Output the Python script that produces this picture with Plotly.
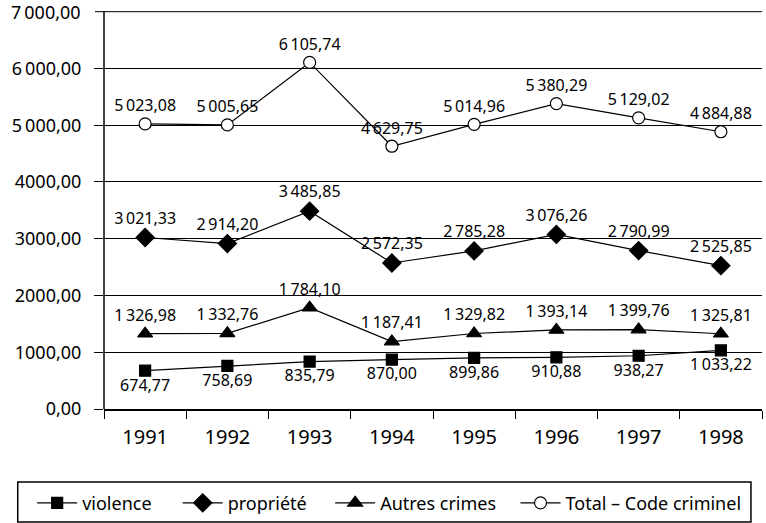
import plotly.graph_objects as go

years = ["1991", "1992", "1993", "1994", "1995", "1996", "1997", "1998"]
violence = [674.77, 758.69, 835.79, 870.00, 899.86, 910.88, 938.27, 1033.22]
propriete = [3021.33, 2914.20, 3485.85, 2572.35, 2785.28, 3076.26, 2790.99, 2525.85]
autres = [1326.98, 1332.76, 1784.10, 1187.41, 1329.82, 1393.14, 1399.76, 1325.81]
total = [5023.08, 5005.65, 6105.74, 4629.75, 5014.96, 5380.29, 5129.02, 4884.88]

y_tickvals = [0, 1000, 2000, 3000, 4000, 5000, 6000, 7000]
y_ticktext = ["0,00", "1000,00", "2000,00", "3000,00", "4000,00", "5\u2009000,00", "6\u2009000,00", "7\u2009000,00"]


def fmt(v):
    s = f"{v:,.2f}"
    s = s.replace(",", "\u2009").replace(".", ",")
    return s


FONT = "Noto Sans"
series = [
    ("violence", violence, "square", "black", "bottom center", 11, "legend", 0.042),
    ("propriété", propriete, "diamond", "black", "top center", 14, "legend2", 0.232),
    ("Autres crimes", autres, "triangle-up", "black", "top center", 13, "legend3", 0.431),
    ("Total \u2013 Code criminel", total, "circle", "white", "top center", 12, "legend4", 0.673),
]

fig = go.Figure()
for name, vals, sym, fill, pos, msize, leg, lx in series:
    fig.add_trace(go.Scatter(
        x=years, y=vals, name=name, mode="lines+markers+text",
        text=[fmt(v) for v in vals], textposition=pos,
        textfont=dict(family=FONT, size=16, color="black"),
        line=dict(color="black", width=1.2),
        marker=dict(symbol=sym, size=msize, color=fill,
                    line=dict(color="black", width=1.2)),
        cliponaxis=False, legend=leg,
    ))

leg_common = dict(orientation="h", xref="container", yref="container",
                  y=0.038, yanchor="middle", xanchor="left",
                  bgcolor="rgba(0,0,0,0)", borderwidth=0,
                  font=dict(family=FONT, size=18, color="black"), itemwidth=40)
legends = {}
for name, vals, sym, fill, pos, msize, leg, lx in series:
    legends[leg] = dict(leg_common, x=lx)

top_val = y_tickvals[-1]
top_txt = y_ticktext[-1]

fig.update_layout(
    width=766, height=523,
    margin=dict(l=104, r=4, t=6, b=114, autoexpand=False),
    paper_bgcolor="white", plot_bgcolor="white",
    font=dict(family=FONT, color="black"),
    showlegend=True,
    **legends,
    xaxis=dict(showgrid=False, showline=True, linecolor="black", linewidth=1.5,
               ticks="outside", tickson="boundaries", ticklen=8, tickcolor="black",
               tickfont=dict(family=FONT, size=20), range=[-0.5, 7.5],
               ticklabelstandoff=9, automargin=False),
    yaxis=dict(range=[0, 7100], tickvals=y_tickvals[:-1],
               ticktext=[t + "\u2002" for t in y_ticktext[:-1]],
               showgrid=True, gridcolor="black", gridwidth=1,
               showline=False,
               ticks="outside", ticklen=9, tickcolor="black",
               tickfont=dict(family=FONT, size=18), zeroline=False,
               automargin=False),
)
# vertical axis line from 0 to the top tick
fig.add_shape(type="line", xref="paper", yref="y", x0=0, x1=0, y0=0, y1=top_val,
              line=dict(color="black", width=1.5))
# top gridline + tick + label
fig.add_shape(type="line", xref="paper", yref="y", x0=-0.0137, x1=1, y0=top_val, y1=top_val,
              line=dict(color="black", width=1))
fig.add_annotation(xref="paper", yref="y", x=0, y=top_val, text=top_txt,
                   showarrow=False, xanchor="right", yanchor="middle", xshift=-21,
                   font=dict(family=FONT, size=18, color="black"))
fig.add_shape(type="rect", xref="paper", yref="paper",
              x0=-0.1311, x1=0.9832, y0=-0.2804, y1=-0.1811,
              line=dict(color="black", width=1.5))

fig.write_html("out.html", config={"displayModeBar": False},
               post_script="document.body.style.margin='0';")
